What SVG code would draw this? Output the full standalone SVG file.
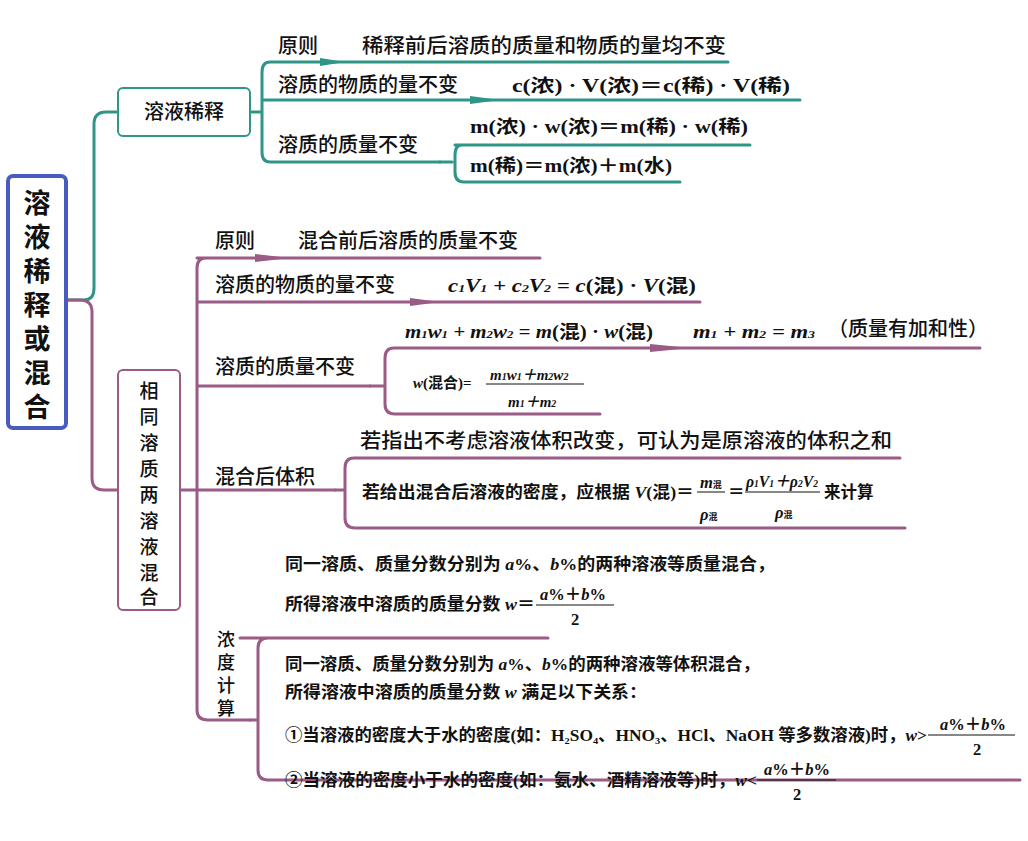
<svg xmlns="http://www.w3.org/2000/svg" width="1028" height="841" viewBox="0 0 1028 841">
<style>
.t{stroke:#2f9587;fill:none;stroke-width:3;stroke-linecap:round;stroke-linejoin:round}
.p{stroke:#9a5b86;fill:none;stroke-width:3;stroke-linecap:round;stroke-linejoin:round}
.ta{fill:#2f9587}.pa{fill:#9a5b86}
.l{font-family:"Noto Sans CJK SC",sans-serif;font-size:20px;fill:#111;font-weight:500}
.f{font-family:"Liberation Serif","Noto Sans CJK SC",serif;font-size:18px;fill:#111;font-weight:bold}
.s{font-family:"Liberation Serif","Noto Sans CJK SC",serif;font-size:16.5px;fill:#111;font-weight:bold}
.i{font-style:italic}
</style>
<rect width="1028" height="841" fill="#fff"/>
<g id="connectors">
<path class="t" d="M66 300 H84 Q94 300 94 288 V124 Q94 112 106 112 H118" stroke-width="5"/>
<path class="t" d="M250 112 H262 M270 62 Q262 62 262 72 V152 Q262 162 270 162 H440 M262 100 H800 M270 62 H728" stroke-width="4"/>
<path class="t" d="M440 162 H452 M462 145 Q455 145 455 155 V172 Q455 182 464 182 H680 M455 145 H750" />
<path class="ta" d="M320 58 L345 62 L320 66Z M470 96 L500 100 L470 104Z"/>
<path class="p" d="M66 300 H80 Q92 300 92 312 V478 Q92 490 104 490 H118" stroke-width="7"/>
<path class="p" d="M180 490 H197 M206 258 Q197 258 197 268 V710 Q197 720 208 720 H250 M197 258 H540 M197 302 H700 M197 386 H370 M197 490 H335" stroke-width="4"/>
<path class="pa" d="M255 254 L290 258 L255 262Z M410 298 L440 302 L410 306Z M650 344 L690 348 L650 352Z"/>
<path class="p" d="M370 386 H385 M394 348 Q385 348 385 358 V404 Q385 414 395 414 H600 M394 348 H980"/>
<path class="p" d="M335 490 H345 M354 458 Q345 458 345 468 V518 Q345 528 355 528 H905 M354 458 H900"/>
<path class="p" d="M250 720 H258 M268 638 Q258 638 258 648 V770 Q258 780 268 780 H1020 M240 638 H548"/>
</g>
<g id="root">
<rect x="8" y="176" width="58" height="252" rx="5" fill="#fff" stroke="#4a5bbe" stroke-width="4"/>
<text class="l" style="font-size:27px;font-weight:bold" text-anchor="middle"><tspan x="37" y="213">溶</tspan><tspan x="37" y="247">液</tspan><tspan x="37" y="281">稀</tspan><tspan x="37" y="315">释</tspan><tspan x="37" y="349">或</tspan><tspan x="37" y="383">混</tspan><tspan x="37" y="417">合</tspan></text>
</g>
<g id="n-dilute">
<rect x="118" y="88" width="132" height="48" rx="5" fill="#fff" stroke="#2f9587" stroke-width="2"/>
<text class="l" x="184" y="119" text-anchor="middle">溶液稀释</text>
<text class="l" x="278" y="53">原则</text>
<text class="l" x="362" y="53" textLength="364" lengthAdjust="spacingAndGlyphs">稀释前后溶质的质量和物质的量均不变</text>
<text class="l" x="278" y="92">溶质的物质的量不变</text>
<text class="f" x="512" y="92" textLength="278" lengthAdjust="spacingAndGlyphs">c(浓) · V(浓)＝c(稀) · V(稀)</text>
<text class="l" x="278" y="152">溶质的质量不变</text>
<text class="f" x="470" y="133" textLength="278" lengthAdjust="spacingAndGlyphs">m(浓) · w(浓)＝m(稀) · w(稀)</text>
<text class="f" x="470" y="172" textLength="202" lengthAdjust="spacingAndGlyphs">m(稀)＝m(浓)＋m(水)</text>
</g>
<g id="n-mix">
<rect x="118" y="370" width="62" height="240" rx="5" fill="#fff" stroke="#9a5b86" stroke-width="2"/>
<text class="l" style="font-size:19px" text-anchor="middle"><tspan x="149" y="398">相</tspan><tspan x="149" y="424">同</tspan><tspan x="149" y="450">溶</tspan><tspan x="149" y="476">质</tspan><tspan x="149" y="502">两</tspan><tspan x="149" y="528">溶</tspan><tspan x="149" y="554">液</tspan><tspan x="149" y="580">混</tspan><tspan x="149" y="604">合</tspan></text>
<text class="l" x="215" y="248">原则</text>
<text class="l" x="298" y="248">混合前后溶质的质量不变</text>
<text class="l" x="215" y="292">溶质的物质的量不变</text>
<text class="f i" x="448" y="292" textLength="248" lengthAdjust="spacingAndGlyphs">c<tspan font-size="11">1</tspan>V<tspan font-size="11">1</tspan> + c<tspan font-size="11">2</tspan>V<tspan font-size="11">2</tspan> = c<tspan font-style="normal">(混) · </tspan>V<tspan font-style="normal">(混)</tspan></text>
<text class="l" x="215" y="374">溶质的质量不变</text>
<text class="f i" x="405" y="338" textLength="248" lengthAdjust="spacingAndGlyphs">m<tspan font-size="11">1</tspan>w<tspan font-size="11">1</tspan> + m<tspan font-size="11">2</tspan>w<tspan font-size="11">2</tspan> = m<tspan font-style="normal">(混) · </tspan>w<tspan font-style="normal">(混)</tspan></text>
<text class="f i" x="693" y="338" textLength="122" lengthAdjust="spacingAndGlyphs">m<tspan font-size="11">1</tspan> + m<tspan font-size="11">2</tspan> = m<tspan font-size="11">3</tspan></text>
<text class="l" x="828" y="336">（质量有加和性）</text>
<text class="s" style="font-size:15px" x="413" y="388"><tspan class="i">w</tspan>(混合)=</text>
<text class="s i" style="font-size:15px" x="490" y="380">m<tspan font-size="10">1</tspan>w<tspan font-size="10">1</tspan>＋m<tspan font-size="10">2</tspan>w<tspan font-size="10">2</tspan></text>
<path d="M486 384 H584" stroke="#111" stroke-width="1"/>
<text class="s i" style="font-size:15px" x="508" y="407">m<tspan font-size="10">1</tspan>＋m<tspan font-size="10">2</tspan></text>
<text class="l" x="215" y="484">混合后体积</text>
<text class="l" x="360" y="448" textLength="532" lengthAdjust="spacingAndGlyphs">若指出不考虑溶液体积改变，可认为是原溶液的体积之和</text>
<text class="s" x="362" y="498" textLength="332" lengthAdjust="spacingAndGlyphs">若给出混合后溶液的密度，应根据 <tspan class="i">V</tspan>(混)＝</text>
<text class="s i" x="700" y="488">m<tspan font-size="9" font-style="normal">混</tspan></text>
<path d="M697 492 H725" stroke="#111" stroke-width="1"/>
<text class="s i" x="700" y="520">ρ<tspan font-size="9" font-style="normal">混</tspan></text>
<text class="s" x="728" y="498">＝</text>
<text class="s i" x="746" y="487" textLength="72" lengthAdjust="spacingAndGlyphs">ρ<tspan font-size="10">1</tspan>V<tspan font-size="10">1</tspan>＋ρ<tspan font-size="10">2</tspan>V<tspan font-size="10">2</tspan></text>
<path d="M745 492 H820" stroke="#111" stroke-width="1"/>
<text class="s i" x="775" y="518">ρ<tspan font-size="9" font-style="normal">混</tspan></text>
<text class="s" x="824" y="498">来计算</text>
</g>
<g id="n-conc">
<text class="l" style="font-size:18px" text-anchor="middle"><tspan x="226" y="646">浓</tspan><tspan x="226" y="669">度</tspan><tspan x="226" y="692">计</tspan><tspan x="226" y="715">算</tspan></text>
<text class="s" x="285" y="570" textLength="490" lengthAdjust="spacingAndGlyphs">同一溶质、质量分数分别为 <tspan class="i">a</tspan>%、<tspan class="i">b</tspan>%的两种溶液等质量混合，</text>
<text class="s" x="285" y="610" textLength="250" lengthAdjust="spacingAndGlyphs">所得溶液中溶质的质量分数 <tspan class="i">w</tspan>＝</text>
<text class="s" x="540" y="600"><tspan class="i">a</tspan>%＋<tspan class="i">b</tspan>%</text>
<path d="M536 605 H614" stroke="#111" stroke-width="1"/>
<text class="s" x="571" y="625">2</text>
<text class="s" x="285" y="670" textLength="475" lengthAdjust="spacingAndGlyphs">同一溶质、质量分数分别为 <tspan class="i">a</tspan>%、<tspan class="i">b</tspan>%的两种溶液等体积混合，</text>
<text class="s" x="285" y="698" textLength="362" lengthAdjust="spacingAndGlyphs">所得溶液中溶质的质量分数 <tspan class="i">w</tspan> 满足以下关系：</text>
<text class="s" x="285" y="741" textLength="642" lengthAdjust="spacingAndGlyphs">①当溶液的密度大于水的密度(如：H₂SO₄、HNO₃、HCl、NaOH 等多数溶液)时，<tspan class="i">w</tspan>&gt;</text>
<text class="s" x="940" y="730"><tspan class="i">a</tspan>%＋<tspan class="i">b</tspan>%</text>
<path d="M928 735 H1015" stroke="#111" stroke-width="1"/>
<text class="s" x="973" y="755">2</text>
<text class="s" x="285" y="786" textLength="472" lengthAdjust="spacingAndGlyphs">②当溶液的密度小于水的密度(如：氨水、酒精溶液等)时，<tspan class="i">w</tspan>&lt;</text>
<text class="s" x="764" y="775"><tspan class="i">a</tspan>%＋<tspan class="i">b</tspan>%</text>
<path d="M757 780 H836" stroke="#111" stroke-width="1"/>
<text class="s" x="793" y="800">2</text>
</g>
</svg>
